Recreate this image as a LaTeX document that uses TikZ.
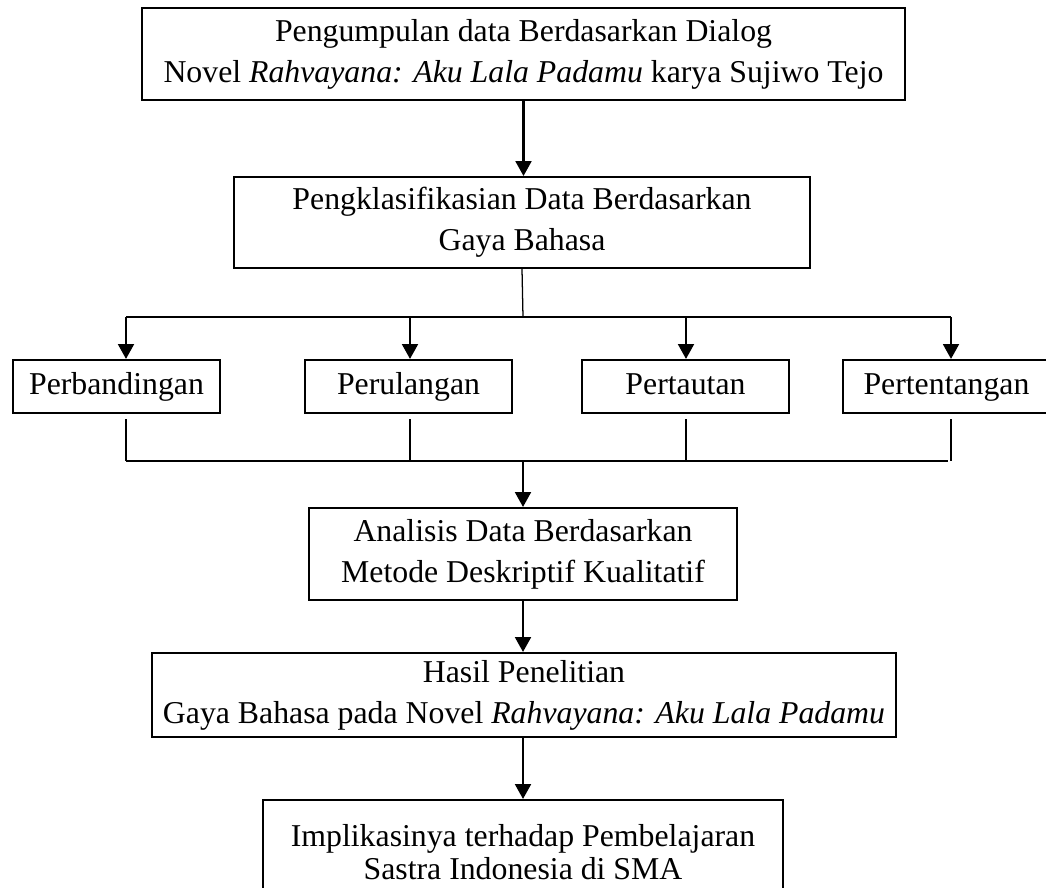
\documentclass[tikz,border=0pt]{standalone}
\usepackage{fontspec}
\setmainfont{Liberation Serif}
\usetikzlibrary{arrows.meta}
\tikzset{
  kotak/.style={draw, line width=1pt, align=center, inner sep=0pt, font=\fontsize{15.1}{19.5}\selectfont},
  kecil/.style={kotak, minimum width=98.3pt, minimum height=25.2pt, text height=10.5pt, text depth=3.2pt},
  panah/.style={-{Triangle[width=7.5pt,length=7pt]}, line width=1pt},
  garis/.style={line width=0.6pt},
  tebal/.style={line width=1.1pt},
}
\begin{document}
\begin{tikzpicture}[x=0.475pt,y=-0.475pt]
\useasboundingbox (0,0) rectangle (1046,887);
\clip (0,0) rectangle (1046,887);
% kotak utama
\node[kotak, minimum width=362.4pt, minimum height=43.7pt] (kumpul) at (523.5,54)
  {Pengumpulan data Berdasarkan Dialog\\Novel \textit{Rahvayana: Aku Lala Padamu} karya Sujiwo Tejo};
\node[kotak, minimum width=273.6pt, minimum height=43.2pt] (klasifikasi) at (522,222.5)
  {Pengklasifikasian Data Berdasarkan\\Gaya Bahasa};
\node[kotak, minimum width=203.3pt, minimum height=43.7pt] (analisis) at (523,554)
  {Analisis Data Berdasarkan\\Metode Deskriptif Kualitatif};
\node[kotak, minimum width=353.4pt, minimum height=39.9pt] (hasil) at (524,695)
  {Hasil Penelitian\\Gaya Bahasa pada Novel \textit{Rahvayana: Aku Lala Padamu}};
\node[kotak, font=\fontsize{15.1}{15.5}\selectfont, minimum width=247pt, minimum height=49.4pt] (implikasi) at (523,852)
  {Implikasinya terhadap Pembelajaran\\Sastra Indonesia di SMA};

\draw[panah] (kumpul.south) -- (kumpul.south |- klasifikasi.north);

% cabang ke empat gaya bahasa
\coordinate (cabang) at (523,317);
\coordinate (gabung) at (523,461);
\draw[garis] (klasifikasi.south) -- (cabang);
\draw[tebal] (126,317) -- (951,317);
\draw[tebal] (126,461) -- (948,461);
\foreach \nama/\teks/\cx/\ax in {banding/Perbandingan/116.5/126, ulang/Perulangan/408.5/410,
    taut/Pertautan/685.5/686, tentang/Pertentangan/946.5/951} {
  \node[kecil] (\nama) at (\cx,386.5) {\teks};
  \coordinate (atas\nama) at (\ax,317);
  \coordinate (bawah\nama) at (\ax,461);
  \draw[panah] (atas\nama) -- (atas\nama |- \nama.north);
  \draw[garis] (bawah\nama |- \nama.south) ++(0,5) -- (bawah\nama);
}

\draw[panah] (gabung) -- (analisis.north);
\draw[panah] (analisis.south) -- (analisis.south |- hasil.north);
\draw[panah] (hasil.south -| implikasi.north) -- (implikasi.north);
\end{tikzpicture}
\end{document}
